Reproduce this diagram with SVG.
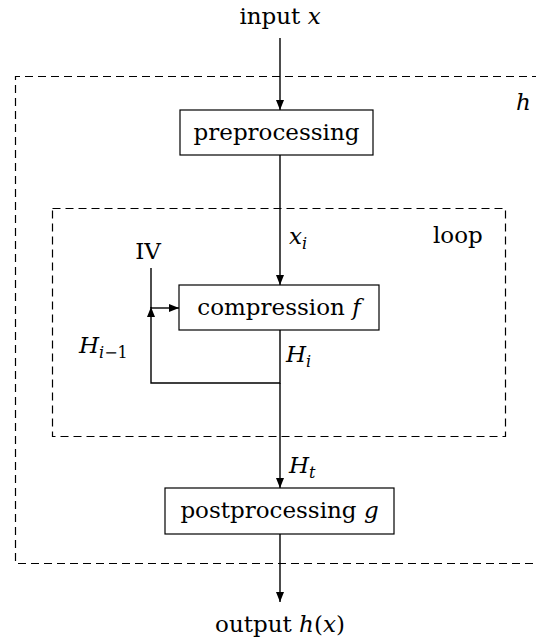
<svg xmlns="http://www.w3.org/2000/svg" width="536" height="641" viewBox="0 0 536 641">
<style>
text{font-family:"DejaVu Serif","Liberation Serif",serif;font-size:23px;fill:#000}
.it{font-style:italic}
.sub{font-size:16px;font-style:italic}
.rm{font-style:normal}
.box{fill:#fff;stroke:#000;stroke-width:1.2}
.dash{fill:none;stroke:#000;stroke-width:1.2;stroke-dasharray:8,5}
.ln{fill:none;stroke:#000;stroke-width:1.4}
</style>
<defs>
<marker id="ah" viewBox="0 0 10 10" refX="10" refY="5" markerWidth="10" markerHeight="10" markerUnits="userSpaceOnUse" orient="auto">
<path d="M0,1 L10,5 L0,9 Z" fill="#000"/>
</marker>
</defs>
<rect width="536" height="641" fill="#fff"/>
<g id="outer">
<path class="dash" d="M540,76.5 H15.5 V563.5 H540"/>
<text x="516" y="110" class="it">h</text>
</g>
<g id="loop">
<rect class="dash" x="52.5" y="208.5" width="453" height="228"/>
<text x="433" y="243">loop</text>
</g>
<g id="connectors">
<line class="ln" x1="280" y1="38" x2="280" y2="110" marker-end="url(#ah)"/>
<line class="ln" x1="280" y1="155" x2="280" y2="285" marker-end="url(#ah)"/>
<line class="ln" x1="151" y1="268" x2="151" y2="308"/>
<line class="ln" x1="151" y1="308" x2="179" y2="308" marker-end="url(#ah)"/>
<polyline class="ln" points="280,330 280,383 151,383 151,307" marker-end="url(#ah)"/>
<line class="ln" x1="280" y1="383" x2="280" y2="488" marker-end="url(#ah)"/>
<line class="ln" x1="280" y1="534" x2="280" y2="602" marker-end="url(#ah)"/>
</g>
<g id="input"><text x="280" y="24" text-anchor="middle">input <tspan class="it">x</tspan></text></g>
<g id="preprocessing">
<rect class="box" x="180" y="110" width="193" height="45"/>
<text x="276.5" y="140" text-anchor="middle">preprocessing</text>
</g>
<g id="xi"><text x="289" y="244" class="it">x<tspan class="sub" dy="5">i</tspan></text></g>
<g id="iv"><text x="148" y="259" text-anchor="middle">IV</text></g>
<g id="compression">
<rect class="box" x="179" y="285" width="200" height="45"/>
<text x="279" y="315" text-anchor="middle">compression <tspan class="it">f</tspan></text>
</g>
<g id="hi1"><text x="79" y="353" class="it">H<tspan class="sub" dy="5">i<tspan class="rm">−1</tspan></tspan></text></g>
<g id="hi"><text x="286" y="362" class="it">H<tspan class="sub" dy="5">i</tspan></text></g>
<g id="ht"><text x="289" y="473" class="it">H<tspan class="sub" dy="5">t</tspan></text></g>
<g id="postprocessing">
<rect class="box" x="165" y="488" width="229" height="46"/>
<text x="279.5" y="518" text-anchor="middle">postprocessing <tspan class="it">g</tspan></text>
</g>
<g id="output"><text x="280" y="632" text-anchor="middle">output <tspan class="it">h</tspan>(<tspan class="it">x</tspan>)</text></g>
</svg>
